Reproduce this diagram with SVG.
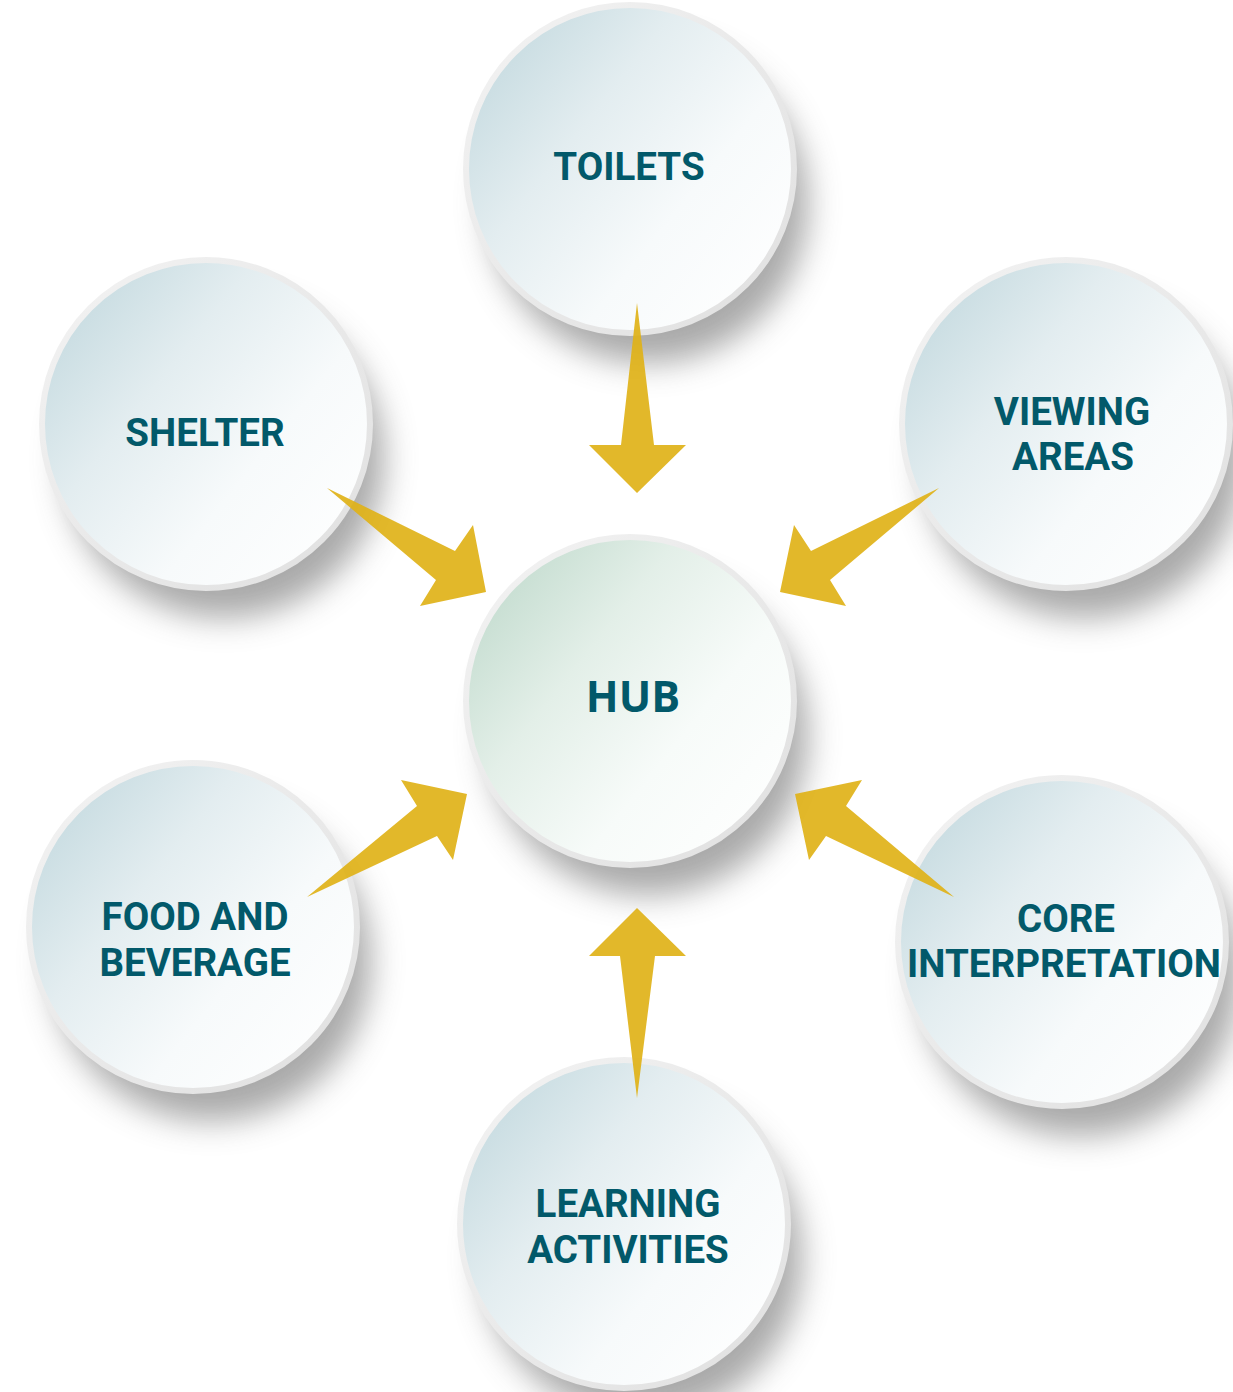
<svg xmlns="http://www.w3.org/2000/svg" width="1233" height="1392" viewBox="0 0 1233 1392">
  <defs>
    <linearGradient id="gBlue" x1="0" y1="0.1" x2="1" y2="0.9">
      <stop offset="0" stop-color="#c0d7dd"/>
      <stop offset="0.35" stop-color="#e3edf0"/>
      <stop offset="0.65" stop-color="#f7fafb"/>
      <stop offset="1" stop-color="#ffffff"/>
    </linearGradient>
    <linearGradient id="gGreen" x1="0" y1="0.1" x2="1" y2="0.9">
      <stop offset="0" stop-color="#bdd8ca"/>
      <stop offset="0.35" stop-color="#e3efe8"/>
      <stop offset="0.65" stop-color="#f7fbf9"/>
      <stop offset="1" stop-color="#ffffff"/>
    </linearGradient>
    <linearGradient id="gRim" x1="0" y1="0" x2="1" y2="1">
      <stop offset="0" stop-color="#f3f3f3"/>
      <stop offset="1" stop-color="#e0e0e0"/>
    </linearGradient>
    <filter id="blur" x="-40%" y="-40%" width="180%" height="180%">
      <feGaussianBlur stdDeviation="16"/>
    </filter>
  </defs>
  <style>
    .shadow { fill: #555555; opacity: 0.5; filter: url(#blur); }
    .disc { stroke: url(#gRim); stroke-width: 6; }
    .blue { fill: url(#gBlue); }
    .green { fill: url(#gGreen); }
    .label { font-family: Roboto, "Liberation Sans", sans-serif; font-weight: 700; font-size: 38.5px; fill: #02596a; text-anchor: middle; }
    .hub { font-family: "Open Sans", "Liberation Sans", sans-serif; font-weight: 700; font-size: 43px; fill: #02596a; text-anchor: middle; }
    .arrow { fill: #e0b218; opacity: 0.92; }
  </style>

  <g id="shadows">
    <circle class="shadow" cx="648" cy="203" r="160"/>
    <circle class="shadow" cx="224" cy="458" r="160"/>
    <circle class="shadow" cx="1084" cy="458" r="160"/>
    <circle class="shadow" cx="648" cy="735" r="160"/>
    <circle class="shadow" cx="211" cy="961" r="160"/>
    <circle class="shadow" cx="1080" cy="976" r="160"/>
    <circle class="shadow" cx="642" cy="1258" r="160"/>
  </g>

  <g id="node-toilets">
    <circle class="disc blue" cx="630" cy="169" r="164"/>
    <text class="label" x="629" y="180">TOILETS</text>
  </g>
  <g id="node-shelter">
    <circle class="disc blue" cx="206" cy="424" r="164"/>
    <text class="label" x="205" y="446">SHELTER</text>
  </g>
  <g id="node-viewing">
    <circle class="disc blue" cx="1066" cy="424" r="164"/>
    <text class="label" x="1072" y="425">VIEWING</text>
    <text class="label" x="1073" y="470">AREAS</text>
  </g>
  <g id="node-hub">
    <circle class="disc green" cx="630" cy="701" r="164"/>
    <text class="hub" x="633" y="712">HUB</text>
  </g>
  <g id="node-food">
    <circle class="disc blue" cx="193" cy="927" r="164"/>
    <text class="label" x="195" y="930">FOOD AND</text>
    <text class="label" x="195" y="976">BEVERAGE</text>
  </g>
  <g id="node-core">
    <circle class="disc blue" cx="1062" cy="942" r="164"/>
    <text class="label" x="1066" y="932">CORE</text>
    <text class="label" x="1064" y="977">INTERPRETATION</text>
  </g>
  <g id="node-learning">
    <circle class="disc blue" cx="624" cy="1224" r="164"/>
    <text class="label" x="628" y="1217">LEARNING</text>
    <text class="label" x="628" y="1263">ACTIVITIES</text>
  </g>

  <g id="connectors">
    <polygon class="arrow" points="637,303 654,445 686,445 637,493 589,445 621,445"/>
    <polygon class="arrow" points="637,1098 620,956 589,956 637,908 686,956 655,956"/>
    <polygon class="arrow" points="327,488 455,551 473,525 486,592 420,606 436,580"/>
    <polygon class="arrow" points="939,488 811,551 794,525 780,592 846,606 830,580"/>
    <polygon class="arrow" points="307,897 437,836 453,860 467,794 401,780 417,806"/>
    <polygon class="arrow" points="954,897 826,836 809,860 795,794 862,780 846,806"/>
  </g>
</svg>
